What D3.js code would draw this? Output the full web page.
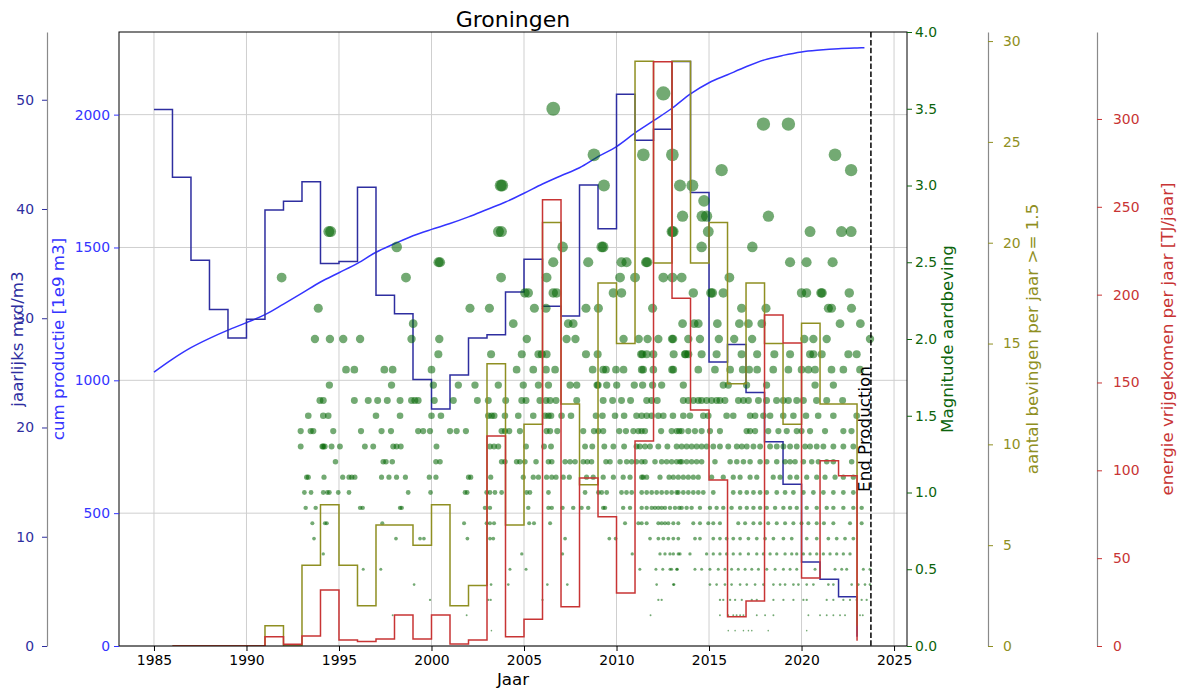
<!DOCTYPE html>
<html>
<head>
<meta charset="utf-8">
<script src="https://cdn.jsdelivr.net/npm/d3@7"></script>
<style>
  body { margin: 0; background: #fff; }
  text { font-family: "DejaVu Sans", sans-serif; }
</style>
</head>
<body>
<svg id="chart" width="1185" height="690"></svg>
<script>
// ---- data ----
const xTicks = [1985, 1990, 1995, 2000, 2005, 2010, 2015, 2020, 2025];
const cumTicks = [0, 500, 1000, 1500, 2000];
const prodTicks = [0, 10, 20, 30, 40, 50];
const magTicks = [0, 0.5, 1, 1.5, 2, 2.5, 3, 3.5, 4];
const countTicks = [0, 5, 10, 15, 20, 25, 30];
const energyTicks = [0, 50, 100, 150, 200, 250, 300];

// yearly production (bcm)
const prodYears = [1985, 1986, 1987, 1988, 1989, 1990, 1991, 1992, 1993, 1994,
  1995, 1996, 1997, 1998, 1999, 2000, 2001, 2002, 2003, 2004,
  2005, 2006, 2007, 2008, 2009, 2010, 2011, 2012, 2013, 2014,
  2015, 2016, 2017, 2018, 2019, 2020, 2021, 2022, 2023];
const prodValues = [49.1, 42.9, 35.3, 30.8, 28.2, 29.9, 39.9, 40.7, 42.5, 35.0,
  35.2, 42.0, 32.1, 30.4, 24.4, 21.7, 24.8, 28.2, 28.5, 32.4,
  35.4, 31.1, 30.2, 42.2, 38.2, 50.5, 46.3, 47.3, 53.5, 41.5,
  26.0, 27.6, 23.2, 18.7, 14.8, 7.7, 6.1, 4.5, 0.85];

// cumulative production (1e9 m3)
const cumYears = [1985, 1986, 1987, 1988, 1989, 1990, 1991, 1992, 1993, 1994,
  1995, 1996, 1997, 1998, 1999, 2000, 2001, 2002, 2003, 2004,
  2005, 2006, 2007, 2008, 2009, 2010, 2011, 2012, 2013, 2014,
  2015, 2016, 2017, 2018, 2019, 2020, 2021, 2022, 2023, 2023.4];
const cumValues = [1031, 1080, 1123, 1158, 1189, 1217, 1247, 1287, 1328, 1370,
  1405, 1440, 1482, 1514, 1544, 1568, 1590, 1615, 1643, 1671,
  1704, 1739, 1770, 1800, 1842, 1880, 1931, 1977, 2024, 2078,
  2120, 2150, 2180, 2206, 2223, 2236, 2243, 2248, 2251, 2252];

// quakes >= 1.5 per year and released energy per year
const quakeYears = [1986, 1987, 1988, 1989, 1990, 1991, 1992, 1993, 1994, 1995,
  1996, 1997, 1998, 1999, 2000, 2001, 2002, 2003, 2004, 2005,
  2006, 2007, 2008, 2009, 2010, 2011, 2012, 2013, 2014, 2015,
  2016, 2017, 2018, 2019, 2020, 2021, 2022, 2023];
const quakeCounts = [0, 0, 0, 0, 0, 1, 0, 4, 7, 4,
  2, 6, 6, 5, 7, 2, 3, 14, 6, 11,
  21, 12, 8, 18, 15, 29, 19, 29, 19, 21,
  13, 18, 15, 11, 16, 12, 12, 1];
const energyValues = [0, 0, 0, 0, 0, 5.3, 1.0, 5.7, 31.9, 3.4,
  2.5, 4.0, 17.6, 4.0, 17.6, 1.1, 3.4, 119.5, 5.3, 15.2,
  254, 22.4, 95.6, 73.6, 30.1, 116.7, 332.6, 198, 134.3, 94.5,
  16.7, 25.6, 188.4, 172.5, 38.7, 105.5, 96.9, 3];

const endProduction = 2023.75;

// individual quakes: [magnitude, [decimal years]]
const quakesStrong = [
  [3.6, [2012.53]],
  [3.5, [2006.58]],
  [3.4, [2017.94, 2019.29]],
  [3.2, [2008.78, 2011.45, 2013.02, 2021.81]],
  [3.1, [2015.68, 2022.68]],
  [3.0, [2003.74, 2003.82, 2009.32, 2013.43, 2014.1]],
  [2.9, [2014.73]],
  [2.8, [2013.57, 2014.63, 2014.87, 2018.21]],
  [2.7, [1994.45, 1994.55, 2003.62, 2003.78, 2013.0, 2013.06, 2014.96, 2020.46, 2022.16, 2022.68]],
  [2.6, [1998.12, 2007.09, 2009.2, 2009.28, 2014.6, 2017.34]],
  [2.5, [2000.38, 2000.46, 2006.58, 2008.47, 2010.27, 2010.54, 2011.6, 2011.66, 2019.38, 2020.27, 2021.68]],
  [2.4, [1991.9, 1998.62, 2003.76, 2006.22, 2010.19, 2011.0, 2012.53, 2013.02, 2013.52, 2016.1]],
  [2.3, [2005.05, 2005.23, 2006.58, 2006.76, 2009.83, 2010.27, 2014.15, 2015.1, 2015.18, 2015.77, 2020.0, 2020.27, 2021.05, 2021.11, 2022.58]],
  [2.2, [1993.88, 2002.08, 2003.13, 2005.56, 2006.19, 2008.35, 2009.02, 2011.95, 2016.76, 2018.08, 2021.45, 2021.62, 2022.7]],
  [2.1, [1999.01, 2004.42, 2007.39, 2007.66, 2013.57, 2014.2, 2014.42, 2015.45, 2016.64, 2017.13, 2017.85, 2022.08, 2023.18]],
  [2.0, [1993.7, 1994.51, 1995.23, 1996.14, 1998.92, 2000.42, 2005.15, 2007.3, 2007.78, 2010.38, 2011.2, 2011.68, 2012.26, 2013.0, 2013.06, 2013.88, 2014.51, 2015.53, 2016.36, 2017.33, 2020.15, 2020.64, 2021.36, 2023.7]]
];
const quakesMedium = [
  [1.9, [2000.37, 2003.22, 2004.88, 2005.78, 2005.96, 2006.22, 2008.35, 2008.98, 2011.33, 2011.4, 2011.63, 2011.99, 2013.09, 2013.7, 2013.74, 2013.88, 2014.6, 2015.41, 2016.76, 2017.6, 2018.53, 2019.38, 2020.46, 2020.64, 2021.09, 2022.53, 2022.98]],
  [1.8, [1995.38, 1995.83, 1997.45, 1997.9, 2000.0, 2004.6, 2005.5, 2006.19, 2006.68, 2008.71, 2009.28, 2009.43, 2009.97, 2010.38, 2011.36, 2011.44, 2011.99, 2013.0, 2013.07, 2014.42, 2015.32, 2016.14, 2016.82, 2017.17, 2017.6, 2018.47, 2019.29, 2020.0, 2020.37, 2020.73, 2021.62, 2022.26, 2023.16]],
  [1.7, [1994.48, 1997.84, 2000.1, 2001.45, 2002.35, 2003.61, 2004.96, 2005.78, 2006.32, 2007.49, 2007.85, 2008.95, 2009.0, 2009.47, 2010.01, 2010.96, 2011.41, 2011.95, 2012.44, 2013.61, 2015.77, 2016.04, 2017.03, 2018.11, 2020.73, 2021.72]],
  [1.6, [1993.97, 1994.15, 1995.83, 1996.58, 1997.09, 1997.61, 1998.3, 1998.92, 1999.1, 1999.28, 2000.15, 2001.18, 2002.48, 2003.07, 2004.01, 2004.88, 2005.11, 2005.86, 2006.19, 2006.41, 2006.73, 2007.85, 2009.28, 2009.79, 2010.27, 2010.76, 2011.63, 2011.9, 2012.2, 2013.61, 2013.88, 2014.15, 2014.42, 2014.6, 2014.87, 2015.14, 2015.41, 2015.59, 2015.86, 2016.59, 2016.86, 2017.13, 2017.67, 2018.11, 2018.65, 2019.01, 2019.29, 2019.74, 2020.1, 2020.81, 2021.36, 2022.22]],
  [1.5, [1993.34, 1994.15, 1994.42, 1997.0, 1998.3, 2000.0, 2000.51, 2003.07, 2003.25, 2003.39, 2003.97, 2004.69, 2005.5, 2006.14, 2006.32, 2006.46, 2007.03, 2007.54, 2008.89, 2009.24, 2009.92, 2010.41, 2011.08, 2011.36, 2011.63, 2011.9, 2012.26, 2012.53, 2013.05, 2013.61, 2013.97, 2014.69, 2014.96, 2015.95, 2016.31, 2017.22, 2017.49, 2017.94, 2018.3, 2019.01, 2019.56, 2020.24, 2020.9, 2021.72, 2022.98]]
];
const quakesLight = [
  [1.4, [1992.93, 1993.47, 1993.61, 1994.69, 1996.19, 1997.3, 1997.81, 1999.28, 1999.55, 1999.92, 2001.0, 2001.36, 2001.86, 2003.79, 2003.97, 2004.2, 2004.78, 2006.22, 2006.41, 2006.8, 2008.2, 2008.78, 2009.02, 2009.28, 2010.15, 2010.51, 2010.91, 2011.18, 2011.36, 2011.54, 2012.41, 2012.98, 2013.25, 2013.39, 2013.52, 2013.88, 2014.24, 2014.6, 2015.05, 2015.59, 2017.03, 2017.22, 2017.49, 2018.2, 2018.75, 2019.2, 2019.74, 2020.0, 2020.46, 2021.27, 2022.26, 2022.7]],
  [1.3, [1992.93, 1994.1, 1994.15, 1994.23, 1994.6, 1995.05, 1996.4, 1996.85, 1997.93, 1998.11, 1998.34, 2000.27, 2003.16, 2003.38, 2003.61, 2005.11, 2006.08, 2006.46, 2008.3, 2008.69, 2009.34, 2009.83, 2010.41, 2011.08, 2011.26, 2011.54, 2011.81, 2012.26, 2012.75, 2013.25, 2013.52, 2013.79, 2014.06, 2014.33, 2014.6, 2014.87, 2015.23, 2015.59, 2016.04, 2016.5, 2016.77, 2017.04, 2017.4, 2017.76, 2018.3, 2018.66, 2019.02, 2019.38, 2019.74, 2020.19, 2020.46, 2020.82, 2021.18, 2021.72, 2022.26, 2022.8]],
  [1.2, [1994.81, 1997.39, 1997.54, 1997.88, 2000.24, 2000.46, 2003.79, 2003.97, 2004.6, 2004.78, 2005.05, 2005.65, 2006.32, 2006.5, 2007.22, 2007.49, 2007.76, 2008.2, 2008.42, 2008.65, 2009.43, 2009.65, 2010.19, 2010.55, 2010.82, 2011.08, 2011.36, 2011.54, 2012.08, 2012.44, 2012.71, 2012.98, 2013.25, 2013.43, 2013.52, 2013.79, 2014.06, 2014.33, 2014.6, 2015.32, 2016.14, 2016.5, 2016.86, 2017.22, 2017.76, 2018.12, 2018.66, 2019.11, 2019.38, 2019.65, 2020.1, 2020.55, 2020.91, 2021.36, 2021.72, 2022.71]],
  [1.1, [1993.25, 1993.34, 1994.19, 1995.2, 1995.54, 1995.69, 1995.86, 1997.3, 1997.7, 1998.11, 1998.59, 1999.88, 2000.24, 2002.0, 2002.12, 2003.2, 2004.96, 2005.5, 2005.78, 2006.22, 2006.5, 2006.73, 2007.12, 2007.45, 2008.38, 2008.74, 2009.28, 2009.83, 2010.36, 2010.73, 2011.36, 2011.44, 2011.63, 2012.35, 2012.84, 2013.07, 2013.34, 2013.61, 2013.88, 2014.15, 2014.42, 2015.14, 2015.77, 2016.31, 2016.68, 2017.22, 2017.58, 2018.47, 2018.84, 2019.38, 2019.74, 2020.28, 2020.82, 2021.27, 2021.81, 2022.26, 2022.8]],
  [1.0, [1993.13, 1993.49, 1994.15, 1994.37, 1994.48, 1994.96, 1995.54, 1998.74, 1999.95, 2001.81, 2001.93, 2002.98, 2003.16, 2003.43, 2003.79, 2005.14, 2005.32, 2006.32, 2008.3, 2009.02, 2009.2, 2009.47, 2010.27, 2010.54, 2010.82, 2011.36, 2011.63, 2011.9, 2012.17, 2012.44, 2012.71, 2012.98, 2013.25, 2013.34, 2013.61, 2013.88, 2014.15, 2014.42, 2014.69, 2015.23, 2016.31, 2016.68, 2017.04, 2017.4, 2017.76, 2018.12, 2018.66, 2019.11, 2019.56, 2020.1, 2020.64, 2021.18, 2021.72, 2022.26, 2022.8]]
];
const quakesMicro = [
  [0.9, [1993.2, 1993.74, 1996.14, 1996.28, 1998.3, 1998.39, 2002.89, 2003.16, 2005.23, 2006.32, 2006.5, 2007.08, 2007.66, 2008.11, 2008.47, 2009.28, 2009.38, 2010.36, 2010.73, 2011.36, 2011.63, 2011.9, 2012.08, 2012.26, 2012.44, 2012.62, 2012.89, 2013.16, 2013.39, 2013.52, 2013.79, 2014.06, 2014.51, 2015.05, 2015.41, 2015.77, 2016.22, 2016.68, 2017.04, 2017.4, 2017.76, 2018.12, 2018.57, 2019.02, 2019.38, 2019.74, 2020.28, 2020.82, 2021.36, 2021.72, 2022.26, 2022.8, 2023.25]],
  [0.8, [1993.56, 1994.24, 1994.34, 1997.34, 2001.76, 2002.98, 2003.16, 2003.38, 2005.28, 2005.54, 2006.41, 2010.46, 2011.18, 2011.36, 2011.63, 2012.26, 2012.44, 2012.62, 2012.8, 2013.07, 2013.34, 2014.15, 2014.51, 2014.96, 2015.23, 2015.59, 2016.58, 2016.95, 2017.4, 2017.76, 2018.2, 2018.66, 2019.11, 2019.56, 2020.0, 2020.37, 2020.82, 2021.21, 2021.72, 2022.62, 2023.25]],
  [0.7, [1993.65, 1998.08, 1999.38, 1999.59, 2001.94, 2003.16, 2003.34, 2007.22, 2009.61, 2009.95, 2011.81, 2012.26, 2012.53, 2012.8, 2013.07, 2013.34, 2014.24, 2014.51, 2015.23, 2015.59, 2015.95, 2016.31, 2016.68, 2017.13, 2017.58, 2018.03, 2018.48, 2019.02, 2019.47, 2020.28, 2020.82, 2021.45, 2021.9, 2022.35, 2022.8]],
  [0.6, [1994.15, 2004.88, 2007.08, 2010.85, 2012.35, 2012.62, 2012.89, 2013.07, 2013.34, 2013.43, 2013.97, 2014.87, 2015.23, 2015.59, 2015.95, 2016.31, 2016.68, 2017.13, 2017.58, 2017.94, 2018.3, 2018.66, 2019.11, 2019.47, 2019.74, 2020.1, 2020.46, 2020.82, 2021.18, 2021.54, 2021.9, 2022.26, 2022.62]],
  [0.5, [1996.31, 1997.26, 2004.24, 2005.11, 2011.26, 2012.13, 2012.5, 2012.89, 2012.98, 2013.25, 2013.29, 2014.24, 2014.6, 2015.05, 2015.5, 2015.86, 2016.22, 2016.58, 2016.95, 2017.31, 2017.67, 2018.12, 2018.57, 2019.02, 2019.38, 2019.74, 2020.73, 2021.81, 2022.17, 2022.44, 2023.34, 2023.7]],
  [0.4, [1999.06, 2003.22, 2004.15, 2006.26, 2007.34, 2012.17, 2013.07, 2013.11, 2015.05, 2015.41, 2015.86, 2016.22, 2016.68, 2017.04, 2017.49, 2017.94, 2018.48, 2018.84, 2019.11, 2019.56, 2019.83, 2020.28, 2020.64, 2021.45, 2021.72, 2022.71, 2023.07, 2023.43, 2023.7]],
  [0.3, [1999.92, 2003.07, 2003.2, 2006.0, 2012.26, 2012.44, 2015.59, 2015.77, 2016.14, 2016.41, 2016.77, 2017.31, 2017.58, 2018.48, 2019.02, 2019.56, 2020.1, 2020.28, 2021.36, 2021.72, 2022.26, 2022.62, 2022.98, 2023.25, 2023.52]],
  [0.2, [1997.9, 2001.9, 2011.84, 2015.59, 2016.04, 2016.31, 2016.49, 2016.68, 2016.86, 2017.58, 2018.03, 2018.48, 2020.37, 2021.0, 2021.36, 2021.72, 2022.08, 2022.35, 2023.16, 2023.31]],
  [0.1, [2003.24, 2016.04, 2016.41, 2016.86, 2017.13, 2017.31, 2018.2, 2020.28]]
];

// ---- layout ----
const WIDTH = 1185;
const HEIGHT = 690;
const PLOT = {left: 119, right: 907, top: 32, bottom: 646};
const MID_Y = (PLOT.top + PLOT.bottom) / 2;

const COL = {
  prod: '#2e2ea0',
  cum: '#3434ff',
  mag: '#0c640c',
  count: '#8f8f22',
  energy: '#c83434',
  spine: '#8a8a8a',
  grid: '#cfcfcf'
};

const svg = d3.select('#chart');

// Scales
const x = d3.scaleLinear().domain([1983.11, 2025.7]).range([PLOT.left, PLOT.right]);
const yCum = d3.scaleLinear().domain([0, 2311]).range([PLOT.bottom, PLOT.top]);
const yProd = d3.scaleLinear().domain([0, 56.2]).range([PLOT.bottom, PLOT.top]);
const yMag = d3.scaleLinear().domain([0, 4]).range([PLOT.bottom, PLOT.top]);
const yCount = d3.scaleLinear().domain([0, 30.45]).range([PLOT.bottom, PLOT.top]);
const yEnergy = d3.scaleLinear().domain([0, 349.5]).range([PLOT.bottom, PLOT.top]);
const rMag = d3.scaleLinear().domain([0, 4]).range([0.6, 7.8]);

svg.append('defs').append('clipPath').attr('id', 'plot-clip')
  .append('rect')
  .attr('x', PLOT.left).attr('y', PLOT.top)
  .attr('width', PLOT.right - PLOT.left).attr('height', PLOT.bottom - PLOT.top);

// Grid
const grid = svg.append('g').attr('stroke', COL.grid).attr('stroke-width', 1);
grid.selectAll('.vgrid').data(xTicks).join('line')
  .attr('x1', d => x(d)).attr('x2', d => x(d))
  .attr('y1', PLOT.top).attr('y2', PLOT.bottom);
grid.selectAll('.hgrid').data(cumTicks).join('line')
  .attr('x1', PLOT.left).attr('x2', PLOT.right)
  .attr('y1', d => yCum(d)).attr('y2', d => yCum(d));

const plot = svg.append('g').attr('clip-path', 'url(#plot-clip)');

// Cumulative production
const cumData = cumYears.map((t, i) => ({t: t, v: cumValues[i]}));
plot.append('path')
  .datum(cumData)
  .attr('fill', 'none')
  .attr('stroke', COL.cum)
  .attr('stroke-width', 1.5)
  .attr('d', d3.line().x(d => x(d.t)).y(d => yCum(d.v)).curve(d3.curveMonotoneX));

// Yearly production (steps)
const prodData = prodYears.map((t, i) => ({t: t, v: prodValues[i]}));
plot.append('path')
  .datum(prodData)
  .attr('fill', 'none')
  .attr('stroke', COL.prod)
  .attr('stroke-width', 1.5)
  .attr('d', d3.line().x(d => x(d.t)).y(d => yProd(d.v)).curve(d3.curveStepAfter));

// Quakes
const quakes = [...quakesStrong, ...quakesMedium, ...quakesLight, ...quakesMicro]
  .flatMap(([m, ts]) => ts.map(t => ({t: t, m: m})))
  .sort((a, b) => a.t - b.t);
plot.append('g').selectAll('circle').data(quakes).join('circle')
  .attr('cx', d => x(d.t))
  .attr('cy', d => yMag(d.m))
  .attr('r', d => rMag(d.m))
  .attr('fill', '#006400')
  .attr('fill-opacity', 0.55);

// Count steps
const countData = quakeYears.map((t, i) => ({t: t, v: quakeCounts[i]}));
plot.append('path')
  .datum(countData)
  .attr('fill', 'none')
  .attr('stroke', COL.count)
  .attr('stroke-width', 1.5)
  .attr('d', d3.line().x(d => x(d.t)).y(d => yCount(d.v)).curve(d3.curveStepAfter));

// Energy steps
const energyData = quakeYears.map((t, i) => ({t: t, v: energyValues[i]}));
plot.append('path')
  .datum(energyData)
  .attr('fill', 'none')
  .attr('stroke', COL.energy)
  .attr('stroke-width', 1.5)
  .attr('d', d3.line().x(d => x(d.t)).y(d => yEnergy(d.v)).curve(d3.curveStepAfter));

// End of production marker
svg.append('line')
  .attr('x1', x(endProduction)).attr('x2', x(endProduction))
  .attr('y1', PLOT.top).attr('y2', PLOT.bottom)
  .attr('stroke', '#000').attr('stroke-width', 1.5)
  .attr('stroke-dasharray', '5.5,2.4');
svg.append('text')
  .attr('transform', 'translate(' + (x(endProduction) - 1) + ',429) rotate(-90)')
  .attr('text-anchor', 'middle')
  .attr('font-size', 16.7)
  .attr('fill', '#000')
  .text('End Production');

// Frame
svg.append('rect')
  .attr('x', PLOT.left).attr('y', PLOT.top)
  .attr('width', PLOT.right - PLOT.left).attr('height', PLOT.bottom - PLOT.top)
  .attr('fill', 'none').attr('stroke', '#000').attr('stroke-width', 1);

// Axes
function styleAxis(g, color, spineColor) {
  g.selectAll('text').attr('font-size', 13.9).attr('fill', color).style('font-family', '"DejaVu Sans", sans-serif');
  g.selectAll('.tick line').attr('stroke', color);
  if (spineColor) g.select('.domain').attr('stroke', spineColor).attr('stroke-width', 1.2);
  else g.select('.domain').remove();
}

const xAxis = svg.append('g')
  .attr('transform', 'translate(0,' + PLOT.bottom + ')')
  .call(d3.axisBottom(x).tickValues(xTicks).tickFormat(d3.format('d')).tickSize(5).tickPadding(4).tickSizeOuter(0));
styleAxis(xAxis, '#000', null);

const cumAxis = svg.append('g')
  .attr('transform', 'translate(' + PLOT.left + ',0)')
  .call(d3.axisLeft(yCum).tickValues(cumTicks).tickFormat(d3.format('d')).tickSize(5).tickPadding(4).tickSizeOuter(0));
styleAxis(cumAxis, COL.cum, null);

const prodAxis = svg.append('g')
  .attr('transform', 'translate(47,0)')
  .call(d3.axisLeft(yProd).tickValues(prodTicks).tickFormat(d3.format('d')).tickSize(5).tickPadding(8).tickSizeOuter(0));
styleAxis(prodAxis, COL.prod, COL.spine);

const magAxis = svg.append('g')
  .attr('transform', 'translate(' + PLOT.right + ',0)')
  .call(d3.axisRight(yMag).tickValues(magTicks).tickFormat(d3.format('.1f')).tickSize(5).tickPadding(3).tickSizeOuter(0));
styleAxis(magAxis, COL.mag, null);

const countAxis = svg.append('g')
  .attr('transform', 'translate(988,0)')
  .call(d3.axisRight(yCount).tickValues(countTicks).tickFormat(d3.format('d')).tickSize(5).tickPadding(10).tickSizeOuter(0));
styleAxis(countAxis, COL.count, COL.spine);

const energyAxis = svg.append('g')
  .attr('transform', 'translate(1097,0)')
  .call(d3.axisRight(yEnergy).tickValues(energyTicks).tickFormat(d3.format('d')).tickSize(5).tickPadding(11).tickSizeOuter(0));
styleAxis(energyAxis, COL.energy, COL.spine);

// Axis titles
function vLabel(xb, label, color) {
  svg.append('text')
    .attr('transform', 'translate(' + xb + ',' + MID_Y + ') rotate(-90)')
    .attr('text-anchor', 'middle')
    .attr('font-size', 16.7)
    .attr('fill', color)
    .text(label);
}
vLabel(23, 'jaarlijks mrd/m3', COL.prod);
vLabel(64, 'cum productie [1e9 m3]', COL.cum);
vLabel(953, 'Magnitude aardbeving', COL.mag);
vLabel(1038, 'aantal bevingen per jaar >= 1.5', COL.count);
vLabel(1173, 'energie vrijgekomen per jaar [TJ/jaar]', COL.energy);

svg.append('text')
  .attr('x', (PLOT.left + PLOT.right) / 2).attr('y', 685)
  .attr('text-anchor', 'middle').attr('font-size', 16.7).attr('fill', '#000')
  .text('Jaar');

svg.append('text')
  .attr('x', (PLOT.left + PLOT.right) / 2).attr('y', 27)
  .attr('text-anchor', 'middle').attr('font-size', 22).attr('fill', '#000')
  .text('Groningen');
</script>
</body>
</html>
